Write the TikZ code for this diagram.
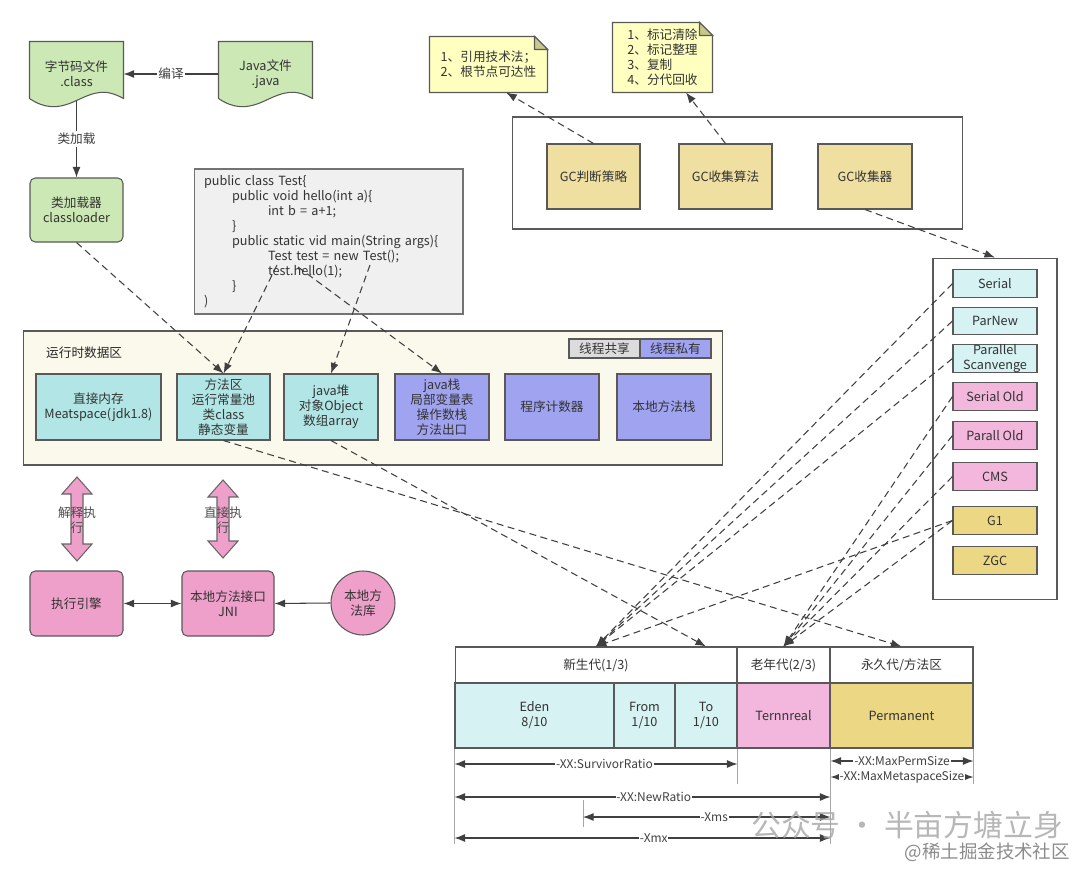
\documentclass[tikz,border=0pt]{standalone}
\usepackage{fontspec}
\setmainfont{Noto Sans CJK SC}
\usetikzlibrary{positioning,calc,arrows.meta,backgrounds}

\definecolor{docgreen}{RGB}{204,232,181}
\definecolor{codegray}{RGB}{240,240,240}
\definecolor{rtcream}{RGB}{251,249,235}
\definecolor{rtcyan}{RGB}{178,230,230}
\definecolor{rtpurple}{RGB}{160,163,240}
\definecolor{legendgray}{RGB}{220,220,220}
\definecolor{gckhaki}{RGB}{239,224,162}
\definecolor{noteyellow}{RGB}{255,255,192}
\definecolor{notefold}{RGB}{200,200,140}
\definecolor{lightcyan}{RGB}{214,242,242}
\definecolor{lightpink}{RGB}{243,182,220}
\definecolor{gold}{RGB}{235,215,132}
\definecolor{enginepink}{RGB}{238,160,202}

\tikzset{
  box/.style={draw=black!65, line width=0.6pt, inner sep=0pt, align=center, text=black!80},
  arr/.style={draw=black!75, line width=0.6pt, -{Latex[length=6pt,width=4.5pt]}},
  dep/.style={arr, dash pattern=on 4pt off 2.5pt},
  dim/.style={draw=black!75, line width=0.6pt, {Latex[length=6pt,width=4.5pt]}-{Latex[length=6pt,width=4.5pt]}},
  ext/.style={draw=black!35, line width=0.5pt},
  dimlabel/.style={fill=white, inner sep=0.5pt, text=black!75, font=\fontsize{6.8}{8}\selectfont, pos=0.53},
  pathlabel/.style={fill=white, inner sep=1pt, text=black!75}
}

\begin{document}
\begin{tikzpicture}[x=0.02cm, y=-0.02cm, font=\fontsize{7.2}{8.5}\selectfont]
    \useasboundingbox (0,0) rectangle (1080,869);
    \begin{scope}[on background layer]
        \fill[white] (0,0) rectangle (1080,869);
    \end{scope}

    % Source files and class loader
    \node[box, draw=none, minimum width=1.86cm, minimum height=1.28cm] (cls) at (76.5,74) {字节码文件\\.class};
    \node[box, draw=none, minimum width=1.86cm, minimum height=1.28cm] (javaf) at (265.5,74) {Java文件\\.java};
    \begin{scope}[on background layer]
    \foreach \d in {cls,javaf} {
        \filldraw[fill=docgreen, draw=black!65, line width=0.6pt] (\d.north west) -- (\d.north east) -- ($(\d.south east)+(0,-8)$)
            .. controls ($(\d.south east)+(-18,-18)$) and ($(\d.south)+(19,-15)$) .. ($(\d.south)+(0,-6)$)
            .. controls ($(\d.south)+(-19,3)$) and ($(\d.south west)+(15,2)$) .. ($(\d.south west)+(0,-8)$) -- cycle;
    }
    \end{scope}
    \node[box, fill=docgreen, rounded corners=3pt, minimum width=1.86cm, minimum height=1.28cm] (loader) at (76.5,210) {类加载器\\classloader};

    \draw[arr] (javaf.west) -- node[pathlabel] {编译} (cls.east);
    \draw[arr] ($(cls.south)+(0,-6)$) -- node[pathlabel] {类加载} (loader.north);

    % Sample code
    \node[box, fill=codegray, draw=black!55, minimum height=2.9cm, text width=4.98cm, inner xsep=0.2cm, align=left] (code) at (328.5,241.5)
        {public class Test\{\\
         \hspace*{0.56cm}public void hello(int a)\{\\
         \hspace*{1.28cm}int b = a+1;\\
         \hspace*{0.56cm}\}\\
         \hspace*{0.56cm}public static vid main(String args)\{\\
         \hspace*{1.28cm}Test test = new Test();\\
         \hspace*{1.28cm}test.hello(1);\\
         \hspace*{0.56cm}\}\\
         )};
    \coordinate (newobj) at (277,265);
    \coordinate (newtest) at (370,265);
    \coordinate (callhello) at (298,267);

    % Runtime data area
    \node[box, fill=rtcream, minimum width=14cm, minimum height=2.68cm] (rt) at (373,398) {};
    \node[anchor=west, text=black!85] (rtlabel) at (40,353) {运行时数据区};
    \node[box, fill=legendgray, minimum width=1.42cm, minimum height=0.38cm] (shared) at (604.5,348.5) {线程共享};
    \node[box, fill=rtpurple, minimum width=1.42cm, minimum height=0.38cm] (private) at (675.5,348.5) {线程私有};

    \node[box, fill=rtcyan, minimum width=2.5cm, minimum height=1.32cm] (direct) at (98.5,407) {直接内存\\Meatspace(jdk1.8)};
    \node[box, fill=rtcyan, minimum width=1.86cm, minimum height=1.32cm] (method) at (223.5,407) {方法区\\运行常量池\\类class\\静态变量};
    \node[box, fill=rtcyan, minimum width=1.88cm, minimum height=1.32cm] (heap) at (331,407) {java堆\\对象Object\\数组array};
    \node[box, fill=rtpurple, minimum width=1.88cm, minimum height=1.32cm] (stack) at (442,407) {java栈\\局部变量表\\操作数栈\\方法出口};
    \node[box, fill=rtpurple, minimum width=1.88cm, minimum height=1.32cm] (pc) at (552,407) {程序计数器};
    \node[box, fill=rtpurple, minimum width=1.88cm, minimum height=1.32cm] (nstack) at (664,407) {本地方法栈};

    \draw[dep] (loader.south) -- (method.north);
    \draw[dep] (newobj) -- (method.north);
    \draw[dep] (newtest) -- (heap.north);
    \draw[dep] (callhello) -- (stack.north);

    % Execution engine and native interface
    \foreach \c/\t/\b in {77/477/561, 223/480/558} {
        \filldraw[fill=enginepink, draw=black!60, line width=0.6pt]
            (\c,\t) -- (\c+15,\t+17) -- (\c+6,\t+17) -- (\c+6,\b-17) -- (\c+15,\b-17) -- (\c,\b)
            -- (\c-15,\b-17) -- (\c-6,\b-17) -- (\c-6,\t+17) -- (\c-15,\t+17) -- cycle;
    }
    \node[text=black!70, align=center] (interp) at (77,520) {解释执\\行};
    \node[text=black!70, align=center] (directexec) at (223,520) {直接执\\行};

    \node[box, fill=enginepink, rounded corners=3pt, minimum width=1.86cm, minimum height=1.3cm] (exec) at (76.5,603.5) {执行引擎};
    \node[box, fill=enginepink, rounded corners=3pt, minimum width=1.84cm, minimum height=1.3cm] (jni) at (228,603.5) {本地方法接口\\JNI};
    \node[box, fill=enginepink, circle, minimum size=1.28cm] (lib) at (363,603) {本地方\\法库};

    \draw[dim] (exec.east) -- (jni.west);
    \draw[arr] (lib.west) -- (jni.east);

    % Garbage collection
    \node[box, fill=white, minimum width=9.02cm, minimum height=2.24cm] (gc) at (737.5,173) {};
    \node[box, fill=gckhaki, minimum width=1.86cm, minimum height=1.3cm] (gcjudge) at (593.5,176.5) {GC判断策略};
    \node[box, fill=gckhaki, minimum width=1.86cm, minimum height=1.3cm] (gcalgo) at (725.5,176.5) {GC收集算法};
    \node[box, fill=gckhaki, minimum width=1.88cm, minimum height=1.3cm] (gccoll) at (865,176.5) {GC收集器};

    \node[box, draw=none, minimum width=2.34cm, minimum height=1.1cm, align=left] (note1) at (488.5,64.5) {1、引用技术法；\\2、根节点可达性};
    \node[box, draw=none, minimum width=1.98cm, minimum height=1.38cm, align=left] (note2) at (662.5,57.5) {1、标记清除\\2、标记整理\\3、复制\\4、分代回收};
    \begin{scope}[on background layer]
    \foreach \n in {note1,note2} {
        \filldraw[fill=noteyellow, draw=black!65, line width=0.6pt] (\n.north west) -- ([xshift=-7.4pt]\n.north east)
            -- ([yshift=-7.4pt]\n.north east) -- (\n.south east) -- (\n.south west) -- cycle;
        \filldraw[fill=notefold, draw=black!65, line width=0.6pt] ([xshift=-7.4pt]\n.north east)
            -- ([xshift=-7.4pt,yshift=-7.4pt]\n.north east) -- ([yshift=-7.4pt]\n.north east) -- cycle;
    }
    \end{scope}

    \draw[dep] (gcjudge.north) -- ($(note1.south)!0.3!(note1.south east)$);
    \draw[dep] (gcalgo.north) -- ($(note2.south)!0.47!(note2.south east)$);

    % Collectors
    \node[box, fill=white, minimum width=2.48cm, minimum height=6.84cm] (gclist) at (995,429) {};
    \foreach \n/\t/\y/\f in {serial/Serial/283.5/lightcyan, parnew/ParNew/321/lightcyan,
            parallel/{Parallel\\Scanvenge}/358.5/lightcyan, serialold/Serial Old/396.5/lightpink,
            parallold/Parall Old/435.5/lightpink, cms/CMS/476.5/lightpink,
            g1/G1/520.5/gold, zgc/ZGC/560.5/gold} {
        \node[box, fill=\f, minimum width=1.68cm, minimum height=0.55cm] (\n) at (995,\y) {\t};
    }
    \draw[dep] (gccoll.south) -- (gclist.north);

    % Heap generations
    \node[box, fill=white, minimum width=5.64cm, minimum height=0.72cm] (young) at (596,665) {新生代(1/3)};
    \node[box, fill=white, minimum width=1.86cm, minimum height=0.72cm] (old) at (783.5,665) {老年代(2/3)};
    \node[box, fill=white, minimum width=2.86cm, minimum height=0.72cm] (perm) at (901.5,665) {永久代/方法区};
    \node[box, fill=lightcyan, minimum width=3.18cm, minimum height=1.3cm] (eden) at (534.5,715.5) {Eden\\8/10};
    \node[box, fill=lightcyan, minimum width=1.22cm, minimum height=1.3cm] (from) at (644.5,715.5) {From\\1/10};
    \node[box, fill=lightcyan, minimum width=1.24cm, minimum height=1.3cm] (to) at (706,715.5) {To\\1/10};
    \node[box, fill=lightpink, minimum width=1.86cm, minimum height=1.3cm] (tenured) at (783.5,715.5) {Ternnreal};
    \node[box, fill=gold, minimum width=2.86cm, minimum height=1.3cm] (permanent) at (901.5,715.5) {Permanent};

    \foreach \s in {serial,parnew,parallel,g1} \draw[dep] (\s.west) -- (young.north);
    \foreach \s in {serialold,parallold,cms,g1} \draw[dep] (\s.west) -- (old.north);
    \draw[dep] (method.south) -- (perm.north);
    \draw[dep] (heap.south) -- (young.north -| to);

    % Sizing options
    \draw[ext] (eden.south west) -- ++(0,95);
    \draw[ext] (to.south east) -- ++(0,35);
    \draw[ext] (tenured.south east) -- ++(0,95);
    \draw[ext] (permanent.south east) -- ++(0,35);
    \draw[ext] (583,800) -- (583,827);

    \draw[dim] (eden.south west |- 0,764) -- node[dimlabel] {-XX:SurvivorRatio} (to.south east |- 0,764);
    \draw[dim] (tenured.south east |- 0,761) -- node[dimlabel, pos=0.5] {-XX:MaxPermSize} (permanent.south east |- 0,761);
    \draw[dim] (tenured.south east |- 0,777) -- node[dimlabel, pos=0.5] {-XX:MaxMetaspaceSize} (permanent.south east |- 0,777);
    \draw[dim] (eden.south west |- 0,797) -- node[dimlabel] {-XX:NewRatio} (tenured.south east |- 0,797);
    \draw[dim] (583,817) -- node[dimlabel] {-Xms} (tenured.south east |- 0,817);
    \draw[dim] (eden.south west |- 0,838) -- node[dimlabel] {-Xmx} (tenured.south east |- 0,838);

    % Watermarks
    \node[anchor=west, text=black!35, opacity=0.8, font=\fontsize{17}{20}\selectfont] (wechat) at (745,825) {公众号 · 半亩方塘立身};
    \node[anchor=east, text=black!45, font=\fontsize{10.5}{12}\selectfont] (juejin) at (1076,852) {@稀土掘金技术社区};
\end{tikzpicture}
\end{document}
